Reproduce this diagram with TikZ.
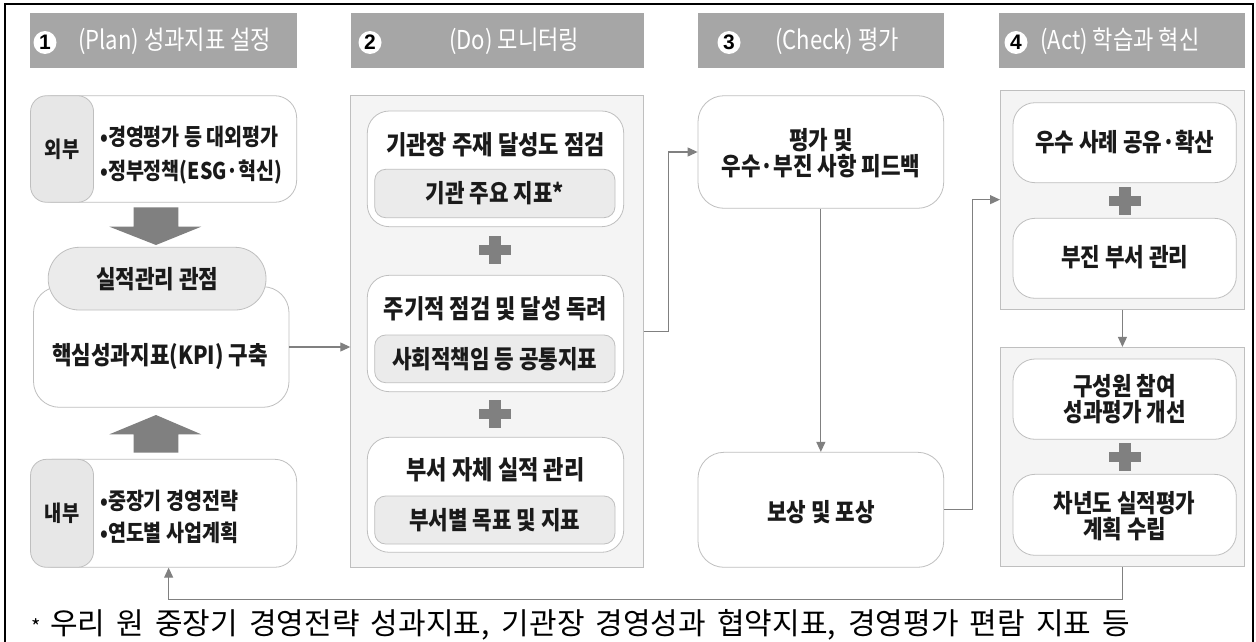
\documentclass[tikz,border=0pt]{standalone}
\usepackage{fontspec}
\setmainfont{Noto Sans CJK KR}[FakeStretch=0.85]
\newfontfamily\footfont{Noto Sans CJK KR}
\newfontfamily\numfont{Liberation Sans}
\usetikzlibrary{arrows.meta,calc}
\definecolor{hdrgray}{HTML}{A6A6A6}
\definecolor{linegray}{HTML}{BFBFBF}
\definecolor{contgray}{HTML}{F4F4F4}
\definecolor{innergray}{HTML}{EBEBEB}
\definecolor{tabgray}{HTML}{E7E7E7}
\definecolor{arrowgray}{HTML}{808080}
\definecolor{txt}{HTML}{1A1A1A}
\tikzset{
  hdr/.style={fill=hdrgray, minimum height=55.6pt, inner sep=0pt},
  num/.style={circle, fill=white, minimum size=23pt, inner sep=0pt, font=\numfont\bfseries\fontsize{21}{21}\selectfont},
  htext/.style={text=white, inner sep=0pt, font=\fontsize{26}{26}\selectfont},
  rbox/.style={draw=linegray, fill=white, rounded corners=22pt, line width=0.8pt, inner sep=0pt},
  cont/.style={draw=linegray, fill=contgray, line width=0.8pt, inner sep=0pt},
  ibox/.style={draw=linegray, fill=innergray, rounded corners=11pt, line width=0.8pt, inner sep=0pt, text=txt, font=\fontsize{25}{25}\selectfont\bfseries},
  tabbox/.style={draw=linegray, fill=tabgray, rounded corners=16pt, line width=0.8pt, inner sep=0pt, text=txt, font=\fontsize{22}{22}\selectfont\bfseries},
  pillbox/.style={draw=linegray, fill=innergray, rounded corners=31pt, line width=0.8pt, inner sep=0pt, text=txt, font=\fontsize{25}{25}\selectfont\bfseries},
  btext/.style={inner sep=0pt, text=txt, font=\fontsize{23}{23}\selectfont\bfseries},
  ttext/.style={inner sep=0pt, text=txt, align=center, font=\fontsize{26}{26}\selectfont\bfseries},
  mtext/.style={inner sep=0pt, text=txt, align=center, font=\fontsize{25}{26}\selectfont\bfseries},
  conn/.style={draw=arrowgray, line width=1.1pt, -{Triangle[length=10pt,width=9pt]}},
  plussign/.pic={\fill[arrowgray] (-16,-5) rectangle (16,5); \fill[arrowgray] (-6,-14) rectangle (6,14);},
}
\begin{document}
\begin{tikzpicture}[x=1pt,y=-1pt]
\useasboundingbox (0,0) rectangle (1256,642);
\fill[white] (0,0) rectangle (1256,642);
% outer frame
\draw[line width=1.3pt, black] (5,648) -- (5,4) -- (1253,4) -- (1253,648);

% headers
\node[hdr, minimum width=267pt] (h1) at (163.5,40.5) {};
\node[hdr, minimum width=293pt] (h2) at (497.1,40.5) {};
\node[hdr, minimum width=246pt] (h3) at (821,40.5) {};
\node[hdr, minimum width=246pt] (h4) at (1121.5,40.5) {};
\node[num] (n1) at (45,42.5) {1};
\node[num] (n2) at (370,42.5) {2};
\node[num] (n3) at (729,42.5) {3};
\node[num] (n4) at (1016,42.5) {4};
\node[htext, anchor=west] (t1) at (78,41) {(Plan) 성과지표 설정};
\node[htext, anchor=west] (t2) at (449,41) {(Do) 모니터링};
\node[htext, anchor=west] (t3) at (775,41) {(Check) 평가};
\node[htext, anchor=west] (t4) at (1040,41) {(Act) 학습과 혁신};

% column 1
\node[rbox, minimum width=266pt, minimum height=106.6pt] (ext) at (163.65,149) {};
\node[tabbox, minimum width=63pt, minimum height=106.6pt] (exttab) at (62.05,149) {외부};
\node[btext, anchor=west] (ext1) at (100,136.7) {•경영평가 등 대외평가};
\node[btext, anchor=west] (ext2) at (100,172.3) {•정부정책(ESG·혁신)};
\fill[arrowgray] (133.5,207.3) -- (178.4,207.3) -- (178.4,226.7) -- (201.2,226.7) -- (156,245) -- (109.4,226.7) -- (133.5,226.7) -- cycle;
\node[rbox, rounded corners=26pt, minimum width=255.5pt, minimum height=120.6pt] (kpi) at (161.25,347) {};
\node[ttext, font=\fontsize{25}{25}\selectfont\bfseries] (kpit) at (160,356.7) {핵심성과지표(KPI) 구축};
\node[pillbox, minimum width=217.8pt, minimum height=62.7pt] (pill) at (157.1,278.65) {실적관리 관점};
\fill[arrowgray] (156,415) -- (201.2,434.3) -- (178.4,434.3) -- (178.4,452.7) -- (133.5,452.7) -- (133.5,434.3) -- (109.4,434.3) -- cycle;
\node[rbox, minimum width=266pt, minimum height=108pt] (int) at (163.65,513.3) {};
\node[tabbox, minimum width=63pt, minimum height=108pt] (inttab) at (62.05,513.3) {내부};
\node[btext, anchor=west] (int1) at (100,501) {•중장기 경영전략};
\node[btext, anchor=west] (int2) at (100,533.3) {•연도별 사업계획};

% column 2
\node[cont, minimum width=292.8pt, minimum height=471.6pt] (c2) at (497.1,331.5) {};
\node[rbox, minimum width=256.4pt, minimum height=115.7pt] (sa) at (495.5,168.85) {};
\node[ttext] (sat) at (495.5,145) {기관장 주재 달성도 점검};
\node[ibox, minimum width=240.3pt, minimum height=48.4pt] (sai) at (494.85,193.5) {기관 주요 지표*};
\pic at (494.5,249.5) {plussign};
\node[rbox, minimum width=256.4pt, minimum height=116.4pt] (sb) at (495.5,333.5) {};
\node[ttext] (sbt) at (495.5,308.3) {주기적 점검 및 달성 독려};
\node[ibox, minimum width=240.3pt, minimum height=47.7pt] (sbi) at (494.85,358.85) {사회적책임 등 공통지표};
\pic at (494.5,414) {plussign};
\node[rbox, minimum width=256.4pt, minimum height=115pt] (sc) at (495.5,494.8) {};
\node[ttext] (sct) at (495.5,470) {부서 자체 실적 관리};
\node[ibox, minimum width=240.3pt, minimum height=48pt] (sci) at (494.85,520) {부서별 목표 및 지표};

% column 3
\node[rbox, rounded corners=26pt, minimum width=245.7pt, minimum height=112.6pt] (b3) at (820.85,152) {};
\node[mtext] (b3t) at (820.85,153) {평가 및\\우수·부진 사항 피드백};
\node[rbox, rounded corners=26pt, minimum width=245.7pt, minimum height=115pt] (rw) at (820.85,509.8) {};
\node[mtext] (rwt) at (820.85,511.7) {보상 및 포상};

% column 4
\node[cont, minimum width=244.1pt, minimum height=219.3pt] (c4a) at (1122.45,199.65) {};
\node[rbox, minimum width=223.3pt, minimum height=80pt] (sd) at (1124.65,142.7) {};
\node[mtext] (sdt) at (1124.65,141.7) {우수 사례 공유·확산};
\pic at (1125,200.5) {plussign};
\node[rbox, minimum width=223.3pt, minimum height=80pt] (se) at (1124.65,258.3) {};
\node[mtext] (set) at (1124.65,256.7) {부진 부서 관리};
\node[cont, minimum width=244.1pt, minimum height=219.4pt] (c4b) at (1122.45,457) {};
\node[rbox, minimum width=223.3pt, minimum height=80.3pt] (sf) at (1124.65,399.15) {};
\node[mtext] (sft) at (1124.65,399.2) {구성원 참여\\성과평가 개선};
\pic at (1125,456.7) {plussign};
\node[rbox, minimum width=223.3pt, minimum height=81pt] (sg) at (1124.65,514.8) {};
\node[mtext] (sgt) at (1124.65,516.2) {차년도 실적평가\\계획 수립};

% connectors
\draw[conn] (kpi.east) -- (kpi.east -| c2.west);
\draw[conn] (c2.east) -- ++(24.3,0) |- (b3.west);
\draw[conn] (b3.south) -- (rw.north);
\draw[conn] (rw.east) -- ++(28,0) |- (c4a.west);
\draw[conn] (c4a.south) -- (c4b.north);
\coordinate (fbin) at ($(int.south)+(5,0)$);
\draw[conn] (c4b.south) -- ++(0,32.3) -| (fbin);

% footnote
\node[inner sep=0pt, anchor=base west, font=\footfont\fontsize{20}{20}\selectfont] (star) at (31,634) {*};
\node[inner sep=0pt, anchor=base west, font=\footfont\fontsize{30}{30}\selectfont] (foot) at (50,634) {\makebox[1080pt][s]{우리 원 중장기 경영전략 성과지표, 기관장 경영성과 협약지표, 경영평가 편람 지표 등}};
\end{tikzpicture}
\end{document}
